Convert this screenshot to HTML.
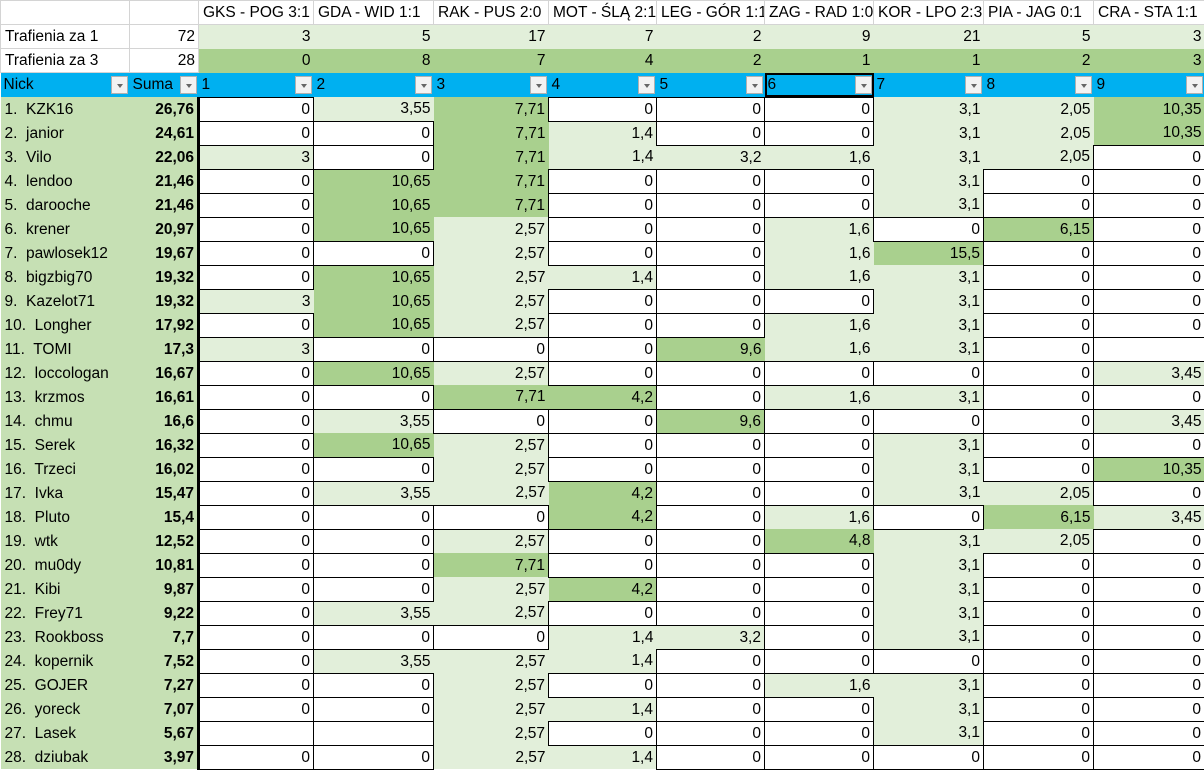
<!DOCTYPE html>
<html><head><meta charset="utf-8">
<style>
html,body{margin:0;padding:0;background:#fff;}
body{width:1204px;height:769px;overflow:hidden;font-family:"Liberation Sans",Arial,sans-serif;font-size:15.5px;color:#000;}
table{border-collapse:collapse;table-layout:fixed;width:1204px;}
td{padding:0 3px;white-space:nowrap;overflow:hidden;height:23px;line-height:23px;text-align:right;}
tr.h td{border:1px solid #d4d4d4;text-align:left;padding-left:4px;}
tr.t td{border:1px solid #d4d4d4;}
tr.t td.a{text-align:left;padding-left:4px;}
tr.t td.lg{background:#e2efda;border:none;}
tr.t td.mg{background:#a9d08e;border:none;}
tr.b td{background:#00b0f0;text-align:left;padding:0 0 0 3px;position:relative;height:24px;line-height:24px;border:none;}
tr.b td.sel{outline:2px solid #000;outline-offset:-2px;}
.dd{position:absolute;right:2px;top:3px;width:17px;height:18px;background:#f2f2f2;border:1px solid #b0b0b0;box-sizing:border-box;}
.dd:after{content:"";position:absolute;left:5px;top:7px;border-left:3px solid transparent;border-right:3px solid transparent;border-top:4px solid #666;}
tr.d td{border:1px solid #000;background:#fff;}
tr.d td.n{background:#c6e0b4;border:none;text-align:left;padding-left:4px;}
tr.d td.s{background:#c6e0b4;border:none;font-weight:bold;}
tr.d td.c1{border-left:3px solid #000;}
tr.d td.l{background:#e2efda;border:none;}
tr.d td.m{background:#a9d08e;border:none;}
tr.d td.c1.l,tr.d td.c1.m{border-left:3px solid #000;}
</style></head><body>
<table>
<colgroup><col style="width:129px"><col style="width:69px"><col style="width:115px"><col style="width:120px"><col style="width:115px"><col style="width:108px"><col style="width:108px"><col style="width:109px"><col style="width:110px"><col style="width:110px"><col style="width:111px"></colgroup>
<tr class="h"><td></td><td></td><td>GKS - POG 3:1</td><td>GDA - WID 1:1</td><td>RAK - PUS 2:0</td><td>MOT - ŚLĄ 2:1</td><td>LEG - GÓR 1:1</td><td>ZAG - RAD 1:0</td><td>KOR - LPO 2:3</td><td>PIA - JAG 0:1</td><td>CRA - STA 1:1</td></tr>
<tr class="t"><td class="a">Trafienia za 1</td><td>72</td><td class="lg">3</td><td class="lg">5</td><td class="lg">17</td><td class="lg">7</td><td class="lg">2</td><td class="lg">9</td><td class="lg">21</td><td class="lg">5</td><td class="lg">3</td></tr>
<tr class="t"><td class="a">Trafienia za 3</td><td>28</td><td class="mg">0</td><td class="mg">8</td><td class="mg">7</td><td class="mg">4</td><td class="mg">2</td><td class="mg">1</td><td class="mg">1</td><td class="mg">2</td><td class="mg">3</td></tr>
<tr class="b"><td>Nick<span class="dd"></span></td><td>Suma<span class="dd"></span></td><td>1<span class="dd"></span></td><td>2<span class="dd"></span></td><td>3<span class="dd"></span></td><td>4<span class="dd"></span></td><td>5<span class="dd"></span></td><td class="sel">6<span class="dd"></span></td><td>7<span class="dd"></span></td><td>8<span class="dd"></span></td><td>9<span class="dd"></span></td></tr>
<tr class="d"><td class="n">1.&nbsp; KZK16</td><td class="s">26,76</td><td class="c1">0</td><td class="l">3,55</td><td class="m">7,71</td><td>0</td><td>0</td><td>0</td><td class="l">3,1</td><td class="l">2,05</td><td class="m">10,35</td></tr>
<tr class="d"><td class="n">2.&nbsp; janior</td><td class="s">24,61</td><td class="c1">0</td><td>0</td><td class="m">7,71</td><td class="l">1,4</td><td>0</td><td>0</td><td class="l">3,1</td><td class="l">2,05</td><td class="m">10,35</td></tr>
<tr class="d"><td class="n">3.&nbsp; Vilo</td><td class="s">22,06</td><td class="c1 l">3</td><td>0</td><td class="m">7,71</td><td class="l">1,4</td><td class="l">3,2</td><td class="l">1,6</td><td class="l">3,1</td><td class="l">2,05</td><td>0</td></tr>
<tr class="d"><td class="n">4.&nbsp; lendoo</td><td class="s">21,46</td><td class="c1">0</td><td class="m">10,65</td><td class="m">7,71</td><td>0</td><td>0</td><td>0</td><td class="l">3,1</td><td>0</td><td>0</td></tr>
<tr class="d"><td class="n">5.&nbsp; darooche</td><td class="s">21,46</td><td class="c1">0</td><td class="m">10,65</td><td class="m">7,71</td><td>0</td><td>0</td><td>0</td><td class="l">3,1</td><td>0</td><td>0</td></tr>
<tr class="d"><td class="n">6.&nbsp; krener</td><td class="s">20,97</td><td class="c1">0</td><td class="m">10,65</td><td class="l">2,57</td><td>0</td><td>0</td><td class="l">1,6</td><td>0</td><td class="m">6,15</td><td>0</td></tr>
<tr class="d"><td class="n">7.&nbsp; pawlosek12</td><td class="s">19,67</td><td class="c1">0</td><td>0</td><td class="l">2,57</td><td>0</td><td>0</td><td class="l">1,6</td><td class="m">15,5</td><td>0</td><td>0</td></tr>
<tr class="d"><td class="n">8.&nbsp; bigzbig70</td><td class="s">19,32</td><td class="c1">0</td><td class="m">10,65</td><td class="l">2,57</td><td class="l">1,4</td><td>0</td><td class="l">1,6</td><td class="l">3,1</td><td>0</td><td>0</td></tr>
<tr class="d"><td class="n">9.&nbsp; Kazelot71</td><td class="s">19,32</td><td class="c1 l">3</td><td class="m">10,65</td><td class="l">2,57</td><td>0</td><td>0</td><td>0</td><td class="l">3,1</td><td>0</td><td>0</td></tr>
<tr class="d"><td class="n">10.&nbsp; Longher</td><td class="s">17,92</td><td class="c1">0</td><td class="m">10,65</td><td class="l">2,57</td><td>0</td><td>0</td><td class="l">1,6</td><td class="l">3,1</td><td>0</td><td>0</td></tr>
<tr class="d"><td class="n">11.&nbsp; TOMI</td><td class="s">17,3</td><td class="c1 l">3</td><td>0</td><td>0</td><td>0</td><td class="m">9,6</td><td class="l">1,6</td><td class="l">3,1</td><td>0</td><td></td></tr>
<tr class="d"><td class="n">12.&nbsp; loccologan</td><td class="s">16,67</td><td class="c1">0</td><td class="m">10,65</td><td class="l">2,57</td><td>0</td><td>0</td><td>0</td><td>0</td><td>0</td><td class="l">3,45</td></tr>
<tr class="d"><td class="n">13.&nbsp; krzmos</td><td class="s">16,61</td><td class="c1">0</td><td>0</td><td class="m">7,71</td><td class="m">4,2</td><td>0</td><td class="l">1,6</td><td class="l">3,1</td><td>0</td><td>0</td></tr>
<tr class="d"><td class="n">14.&nbsp; chmu</td><td class="s">16,6</td><td class="c1">0</td><td class="l">3,55</td><td>0</td><td>0</td><td class="m">9,6</td><td>0</td><td>0</td><td>0</td><td class="l">3,45</td></tr>
<tr class="d"><td class="n">15.&nbsp; Serek</td><td class="s">16,32</td><td class="c1">0</td><td class="m">10,65</td><td class="l">2,57</td><td>0</td><td>0</td><td>0</td><td class="l">3,1</td><td>0</td><td>0</td></tr>
<tr class="d"><td class="n">16.&nbsp; Trzeci</td><td class="s">16,02</td><td class="c1">0</td><td>0</td><td class="l">2,57</td><td>0</td><td>0</td><td>0</td><td class="l">3,1</td><td>0</td><td class="m">10,35</td></tr>
<tr class="d"><td class="n">17.&nbsp; Ivka</td><td class="s">15,47</td><td class="c1">0</td><td class="l">3,55</td><td class="l">2,57</td><td class="m">4,2</td><td>0</td><td>0</td><td class="l">3,1</td><td class="l">2,05</td><td>0</td></tr>
<tr class="d"><td class="n">18.&nbsp; Pluto</td><td class="s">15,4</td><td class="c1">0</td><td>0</td><td>0</td><td class="m">4,2</td><td>0</td><td class="l">1,6</td><td>0</td><td class="m">6,15</td><td class="l">3,45</td></tr>
<tr class="d"><td class="n">19.&nbsp; wtk</td><td class="s">12,52</td><td class="c1">0</td><td>0</td><td class="l">2,57</td><td>0</td><td>0</td><td class="m">4,8</td><td class="l">3,1</td><td class="l">2,05</td><td>0</td></tr>
<tr class="d"><td class="n">20.&nbsp; mu0dy</td><td class="s">10,81</td><td class="c1">0</td><td>0</td><td class="m">7,71</td><td>0</td><td>0</td><td>0</td><td class="l">3,1</td><td>0</td><td>0</td></tr>
<tr class="d"><td class="n">21.&nbsp; Kibi</td><td class="s">9,87</td><td class="c1">0</td><td>0</td><td class="l">2,57</td><td class="m">4,2</td><td>0</td><td>0</td><td class="l">3,1</td><td>0</td><td>0</td></tr>
<tr class="d"><td class="n">22.&nbsp; Frey71</td><td class="s">9,22</td><td class="c1">0</td><td class="l">3,55</td><td class="l">2,57</td><td>0</td><td>0</td><td>0</td><td class="l">3,1</td><td>0</td><td>0</td></tr>
<tr class="d"><td class="n">23.&nbsp; Rookboss</td><td class="s">7,7</td><td class="c1">0</td><td>0</td><td>0</td><td class="l">1,4</td><td class="l">3,2</td><td>0</td><td class="l">3,1</td><td>0</td><td>0</td></tr>
<tr class="d"><td class="n">24.&nbsp; kopernik</td><td class="s">7,52</td><td class="c1">0</td><td class="l">3,55</td><td class="l">2,57</td><td class="l">1,4</td><td>0</td><td>0</td><td>0</td><td>0</td><td>0</td></tr>
<tr class="d"><td class="n">25.&nbsp; GOJER</td><td class="s">7,27</td><td class="c1">0</td><td>0</td><td class="l">2,57</td><td>0</td><td>0</td><td class="l">1,6</td><td class="l">3,1</td><td>0</td><td>0</td></tr>
<tr class="d"><td class="n">26.&nbsp; yoreck</td><td class="s">7,07</td><td class="c1">0</td><td>0</td><td class="l">2,57</td><td class="l">1,4</td><td>0</td><td>0</td><td class="l">3,1</td><td>0</td><td>0</td></tr>
<tr class="d"><td class="n">27.&nbsp; Lasek</td><td class="s">5,67</td><td class="c1"></td><td></td><td class="l">2,57</td><td>0</td><td>0</td><td>0</td><td class="l">3,1</td><td>0</td><td>0</td></tr>
<tr class="d"><td class="n">28.&nbsp; dziubak</td><td class="s">3,97</td><td class="c1">0</td><td>0</td><td class="l">2,57</td><td class="l">1,4</td><td>0</td><td>0</td><td>0</td><td>0</td><td>0</td></tr>
</table>
</body></html>
